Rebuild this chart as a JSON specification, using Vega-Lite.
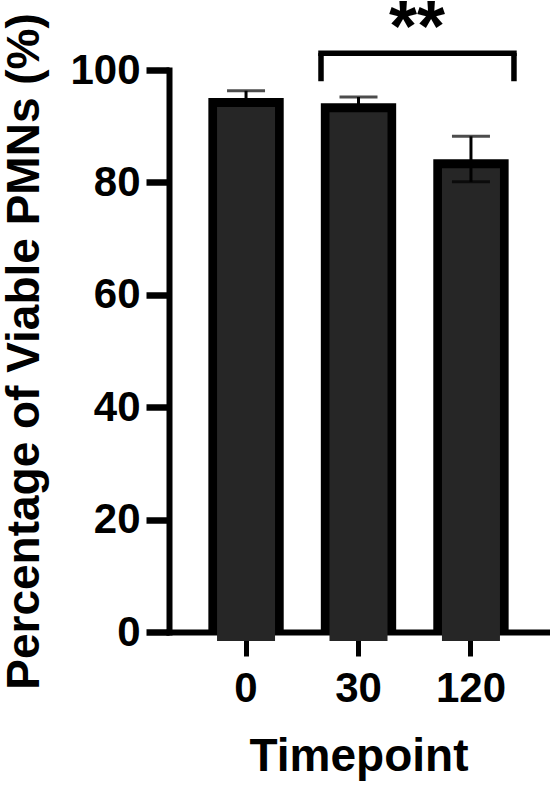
{
  "$schema": "https://vega.github.io/schema/vega-lite/v6.json",
  "width": 379,
  "height": 562,
  "autosize": "none",
  "padding": {"left": 169, "top": 70, "right": 2, "bottom": 153},
  "background": "white",
  "config": {"view": {"stroke": null}, "font": "Liberation Sans"},
  "datasets": {
    "bars": [
      {"t": "0", "mean": 95.0, "lo": 93.7, "hi": 96.3},
      {"t": "30", "mean": 94.1, "lo": 93.0, "hi": 95.2},
      {"t": "120", "mean": 84.1, "lo": 80.1, "hi": 88.2}
    ],
    "sig": [
      {"from": "30", "to": "120", "y": 103, "yLeg": 98, "label": "**", "ys": 113.5}
    ]
  },
  "layer": [
    {
      "data": {"name": "bars"},
      "mark": {"type": "bar", "color": "black"},
      "encoding": {
        "x": {
          "field": "t", "type": "nominal",
          "scale": {"domain": ["0", "30", "120"], "paddingInner": 0.33, "paddingOuter": 0.35},
          "axis": {
            "title": "Timepoint", "labelAngle": 0, "tickSize": 24, "tickWidth": 5, "tickColor": "black",
            "domainWidth": 6, "domainColor": "black", "domainCap": "square",
            "labelFontSize": 42, "labelFontWeight": "bold", "labelColor": "black", "labelPadding": 12,
            "titleFontSize": 46, "titleFontWeight": "bold", "titleColor": "black",
            "titleY": 138, "titleBaseline": "alphabetic"
          }
        },
        "y": {
          "field": "mean", "type": "quantitative",
          "scale": {"domain": [0, 100], "nice": false},
          "axis": {
            "title": "Percentage of Viable PMNs (%)", "values": [0, 20, 40, 60, 80, 100], "grid": false,
            "tickSize": 23, "tickWidth": 6.5, "tickColor": "black",
            "domainWidth": 6, "domainColor": "black", "domainCap": "square",
            "labelFontSize": 42, "labelFontWeight": "bold", "labelColor": "black", "labelPadding": 6,
            "titleFontSize": 46, "titleFontWeight": "bold", "titleColor": "black",
            "titleX": -131, "titleY": 281, "titleBaseline": "alphabetic", "titleAngle": -90, "titleAlign": "center"
          }
        }
      }
    },
    {
      "data": {"name": "bars"},
      "mark": {"type": "bar", "color": "#262626", "size": 58, "yOffset": 9},
      "encoding": {
        "x": {"field": "t", "type": "nominal"},
        "y": {"field": "mean", "type": "quantitative"}
      }
    },
    {
      "data": {"name": "bars"},
      "mark": {"type": "rule", "color": "black", "strokeWidth": 3},
      "encoding": {
        "x": {"field": "t", "type": "nominal"},
        "y": {"field": "lo", "type": "quantitative"},
        "y2": {"field": "hi"}
      }
    },
    {
      "data": {"name": "bars"},
      "mark": {"type": "tick", "color": "black", "orient": "horizontal", "size": 38, "thickness": 3},
      "encoding": {
        "x": {"field": "t", "type": "nominal"},
        "y": {"field": "hi", "type": "quantitative"}
      }
    },
    {
      "data": {"name": "bars"},
      "mark": {"type": "tick", "color": "black", "orient": "horizontal", "size": 38, "thickness": 3},
      "encoding": {
        "x": {"field": "t", "type": "nominal"},
        "y": {"field": "lo", "type": "quantitative"}
      }
    },
    {
      "data": {"name": "sig"},
      "mark": {"type": "rule", "color": "black", "strokeWidth": 5.5, "strokeCap": "square", "xOffset": -37.5, "x2Offset": 43},
      "encoding": {
        "x": {"field": "from", "type": "nominal"},
        "x2": {"field": "to"},
        "y": {"field": "y", "type": "quantitative"}
      }
    },
    {
      "data": {"name": "sig"},
      "mark": {"type": "rule", "color": "black", "strokeWidth": 5.5, "xOffset": -37.5},
      "encoding": {
        "x": {"field": "from", "type": "nominal"},
        "y": {"field": "yLeg", "type": "quantitative"},
        "y2": {"field": "y"}
      }
    },
    {
      "data": {"name": "sig"},
      "mark": {"type": "rule", "color": "black", "strokeWidth": 5.5, "xOffset": 43},
      "encoding": {
        "x": {"field": "to", "type": "nominal"},
        "y": {"field": "yLeg", "type": "quantitative"},
        "y2": {"field": "y"}
      }
    },
    {
      "data": {"name": "sig"},
      "mark": {"type": "text", "color": "black", "fontSize": 72, "fontWeight": "bold", "baseline": "top", "align": "center", "xOffset": 58.5},
      "encoding": {
        "x": {"field": "from", "type": "nominal"},
        "y": {"field": "ys", "type": "quantitative"},
        "text": {"field": "label"}
      }
    }
  ]
}
